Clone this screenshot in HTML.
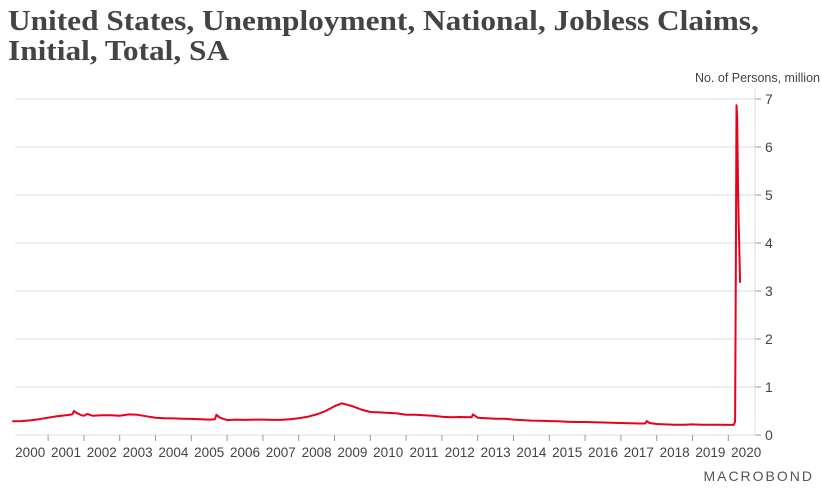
<!DOCTYPE html>
<html><head><meta charset="utf-8"><style>
body{margin:0;width:822px;height:493px;background:#fff;overflow:hidden;font-family:"Liberation Sans",sans-serif}
#title{position:absolute;left:8px;top:6px;font-family:"Liberation Serif",serif;font-weight:bold;font-size:29px;line-height:30px;color:#444;margin:0;white-space:nowrap;transform:scaleX(1.08);transform-origin:0 0}
</style></head><body>
<h1 id="title">United States, Unemployment, National, Jobless Claims,<br>Initial, Total, SA</h1>
<svg id="chart" width="822" height="493" style="position:absolute;left:0;top:0"></svg>
<script>
const dates=[2000.0,2000.25,2000.5,2000.75,2001.0,2001.25,2001.5,2001.68,2001.72,2001.8,2001.9,2002.0,2002.1,2002.2,2002.25,2002.5,2002.75,2003.0,2003.25,2003.5,2003.75,2004.0,2004.25,2004.5,2004.75,2005.0,2005.25,2005.5,2005.66,2005.7,2005.8,2006.0,2006.25,2006.5,2006.75,2007.0,2007.25,2007.5,2007.75,2008.0,2008.25,2008.5,2008.75,2009.0,2009.2,2009.5,2009.75,2010.0,2010.25,2010.5,2010.75,2011.0,2011.25,2011.5,2011.75,2012.0,2012.25,2012.5,2012.83,2012.87,2013.0,2013.25,2013.5,2013.75,2014.0,2014.25,2014.5,2014.75,2015.0,2015.25,2015.5,2015.75,2016.0,2016.25,2016.5,2016.75,2017.0,2017.25,2017.5,2017.68,2017.72,2017.8,2018.0,2018.25,2018.5,2018.75,2019.0,2019.25,2019.5,2019.75,2020.0,2020.15,2020.19,2020.21,2020.23,2020.25,2020.27,2020.29,2020.31,2020.33];
const claims=[0.285,0.29,0.305,0.33,0.36,0.39,0.41,0.43,0.50,0.46,0.42,0.40,0.44,0.41,0.40,0.41,0.41,0.40,0.43,0.42,0.39,0.36,0.35,0.345,0.34,0.335,0.33,0.32,0.33,0.42,0.36,0.31,0.32,0.315,0.32,0.32,0.315,0.315,0.33,0.35,0.38,0.43,0.50,0.60,0.66,0.60,0.53,0.48,0.47,0.46,0.45,0.42,0.42,0.41,0.40,0.38,0.37,0.375,0.37,0.43,0.36,0.35,0.34,0.34,0.32,0.31,0.30,0.295,0.29,0.285,0.275,0.27,0.27,0.265,0.26,0.255,0.25,0.245,0.24,0.24,0.29,0.25,0.23,0.22,0.215,0.215,0.22,0.215,0.215,0.215,0.21,0.21,0.28,3.3,6.87,6.6,5.2,4.4,3.8,3.17];
const yTicks=[0,1,2,3,4,5,6,7];
const years=[2000,2001,2002,2003,2004,2005,2006,2007,2008,2009,2010,2011,2012,2013,2014,2015,2016,2017,2018,2019,2020];
const svg=document.getElementById('chart');const NS='http://www.w3.org/2000/svg';
const x=d=>12.3+(d-2000)*35.8;
const y=v=>435-v*48;
function mk(t,a,p){const e=document.createElementNS(NS,t);for(const k in a)e.setAttribute(k,a[k]);(p||svg).appendChild(e);return e;}
yTicks.forEach(v=>{
 const g=mk('line',{x1:15,x2:755,y1:y(v),y2:y(v),stroke:'#dcdcdc','stroke-width':1});
 
 
 const tk=mk('line',{x1:755,x2:761,y1:y(v),y2:y(v),stroke:'#999','stroke-width':1});
 
 
 const t=mk('text',{x:765,y:y(v)+5,'font-size':14,fill:'#444','font-family':'Liberation Sans, sans-serif'});
 t.textContent=v;
 
 
});
const ax=mk('line',{x1:755,x2:755,y1:88,y2:435,stroke:'#dcdcdc'});


years.forEach(yr=>{
 if(yr>2000){const tk=mk('line',{x1:x(yr),x2:x(yr),y1:435,y2:441,stroke:'#999'});
 
 }
 const t=mk('text',{x:x(yr+0.5),y:457,'font-size':13.5,fill:'#444','text-anchor':'middle','font-family':'Liberation Sans, sans-serif'});
 t.textContent=yr;
 
 
});
const u=mk('text',{x:820,y:82,'font-size':12.5,fill:'#444','text-anchor':'end','font-family':'Liberation Sans, sans-serif'});
u.textContent='No. of Persons, million';


const line=mk('polyline',{points:dates.map((d,i)=>x(d).toFixed(1)+','+y(claims[i]).toFixed(1)).join(' '),fill:'none',stroke:'#e8001c','stroke-width':2,'stroke-linejoin':'round'});


const lg=mk('text',{x:814,y:481,'font-size':14,fill:'#555','text-anchor':'end','letter-spacing':'2','font-family':'Liberation Sans, sans-serif'});
lg.textContent='MACROBOND';


</script>
</body></html>
